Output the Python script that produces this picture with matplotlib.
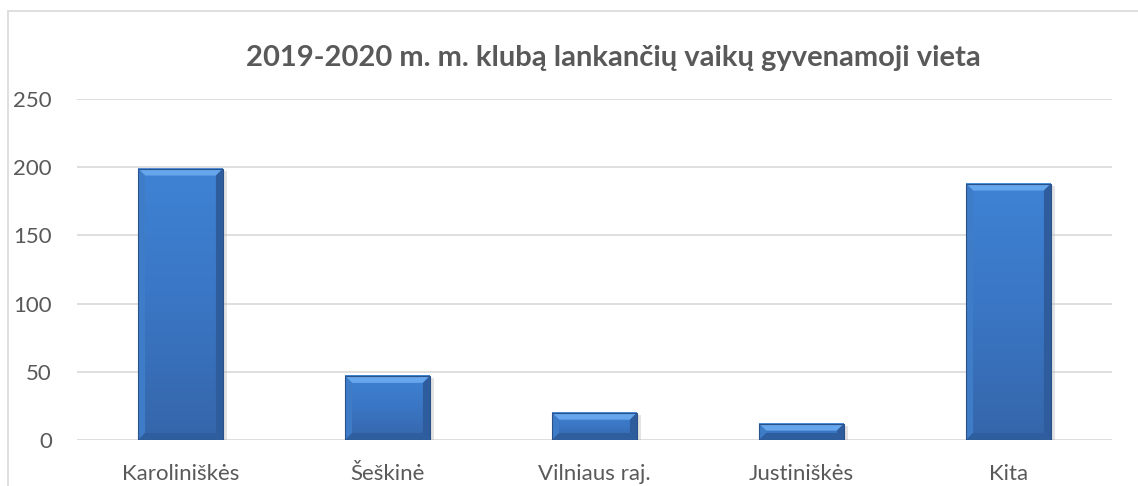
import numpy as np
import matplotlib.pyplot as plt
from matplotlib.patches import Polygon, Rectangle
from matplotlib.colors import LinearSegmentedColormap

categories = ["Karoliniškės", "Šeškinė", "Vilniaus raj.", "Justiniškės", "Kita"]
values = [199, 47, 20, 12, 188]
yticks = [0, 50, 100, 150, 200, 250]
title = "2019-2020 m. m. klubą lankančių vaikų gyvenamoji vieta"

W, H = 1138, 486
plt.rcParams['font.family'] = ['Lato', 'DejaVu Sans']

fig = plt.figure(figsize=(W / 100, H / 100), dpi=100)
ax_l, ax_r, ax_b, ax_t = 77, 1112, 440, 99
ax = fig.add_axes([ax_l / W, 1 - ax_b / H, (ax_r - ax_l) / W, (ax_b - ax_t) / H])

# outer border of the chart area
fig.patches.append(Rectangle((8 / W, -0.1), 1.2, 1 - 10.5 / H + 0.1, transform=fig.transFigure,
                             fill=False, edgecolor='#d9d9d9', linewidth=1.2))

ax.set_xlim(-0.5, len(categories) - 0.5)
ax.set_ylim(0, 250)
ax.set_yticks(yticks)
ax.set_xticks(range(len(categories)))
ax.set_xticklabels(categories)
for s in ax.spines.values():
    s.set_visible(False)
ax.tick_params(length=0, labelsize=16, labelcolor='#595959')
ax.tick_params(axis='x', pad=17)
ax.tick_params(axis='y', pad=18)
ax.yaxis.grid(True, color='#d9d9d9', linewidth=1.2)
ax.set_axisbelow(True)

# pixel -> data units
px_x = (len(categories)) / (ax_r - ax_l)
px_y = 250 / (ax_b - ax_t)

face = LinearSegmentedColormap.from_list('face', ['#3566aa', '#3a76c4', '#3f82d4'])
grad = np.linspace(0, 1, 100).reshape(-1, 1)
bw = 0.41
bev = 7

for i, v in enumerate(values):
    x0, x1 = i - bw / 2, i + bw / 2
    # shadow
    ax.add_patch(Rectangle((x0 + 2 * px_x, -2 * px_y), bw + 2 * px_x, v, facecolor='#b0b0b0',
                           alpha=0.35, edgecolor='none', zorder=2))
    ax.imshow(grad, extent=(x0, x1, 0, v), origin='lower', cmap=face, aspect='auto', zorder=3)
    bx = bev * px_x
    by = min(bev * px_y, v / 2)
    ax.add_patch(Polygon([(x0, v), (x1, v), (x1 - bx, v - by), (x0 + bx, v - by)],
                         facecolor='#66a6ec', edgecolor='none', zorder=4))
    ax.add_patch(Polygon([(x1, v), (x1, 0), (x1 - bx, by), (x1 - bx, v - by)],
                         facecolor='#2e5c9c', edgecolor='none', zorder=4))
    ax.add_patch(Polygon([(x0, v), (x0, 0), (x0 + bx, by), (x0 + bx, v - by)],
                         facecolor='#3e7cc8', edgecolor='none', zorder=4))
    ax.add_patch(Polygon([(x0, 0), (x1, 0), (x1 - bx, by), (x0 + bx, by)],
                         facecolor='#2f5e9e', edgecolor='none', zorder=4))
    ax.add_patch(Rectangle((x0, 0), bw, v, fill=False, edgecolor='#2a5288', linewidth=0.8, zorder=5))

fig.text(613 / W, 1 - 58 / H, title, ha='center', va='center', fontsize=21,
         fontweight='bold', color='#595959')

fig.savefig('out.png', dpi=100)
